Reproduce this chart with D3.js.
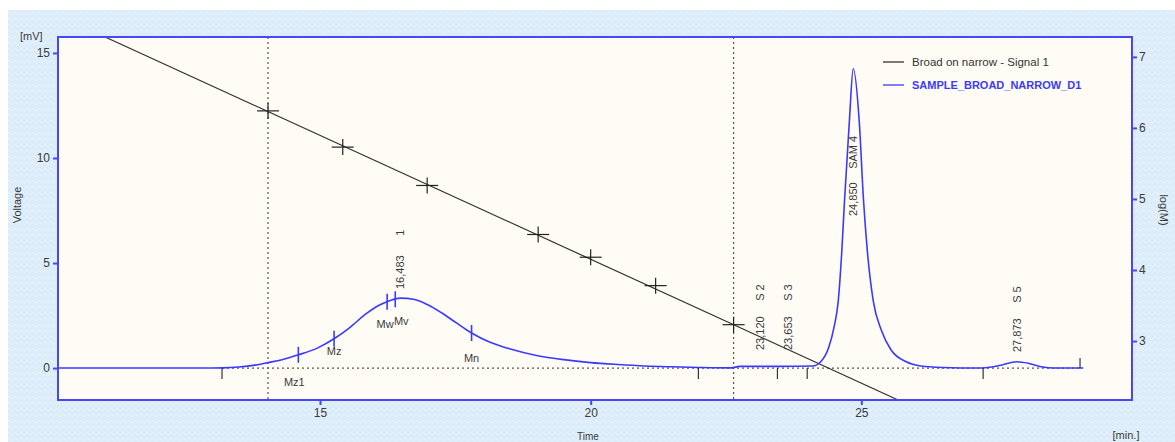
<!DOCTYPE html>
<html>
<head>
<meta charset="utf-8">
<script src="https://cdn.jsdelivr.net/npm/d3@7"></script>
<style>
  html, body { margin: 0; padding: 0; background: #ffffff; }
  svg { display: block; }
  text { font-family: "Liberation Sans", Arial, sans-serif; }
</style>
</head>
<body>
<svg id="chart" width="1175" height="442"></svg>
<script>
// ---------------- DATA ----------------
const xTicks = [15, 20, 25];
const yVoltTicks = [0, 5, 10, 15];
const yLogMTicks = [3, 4, 5, 6, 7];

// Sample trace (time in min, voltage in mV)
const traceTime = [10.16, 12.8, 13.2, 13.5, 13.8, 14.04, 14.3, 14.6, 14.95, 15.28, 15.55, 15.86, 16.1, 16.3, 16.48,
  16.75, 17.0, 17.25, 17.52, 17.8, 18.13, 18.5, 19.0, 19.5, 20.0, 20.5, 21.0, 21.5, 22.0, 22.6, 22.75, 23.5, 24.1,
  24.25, 24.4, 24.5, 24.57, 24.64, 24.69, 24.78, 24.85, 24.96, 25.04, 25.11, 25.22, 25.37, 25.55, 25.83, 26.1, 26.5,
  27.2, 27.4, 27.6, 27.87, 28.1, 28.35, 28.55, 29.1];
const traceVolt = [0, 0, 0.01, 0.05, 0.14, 0.26, 0.4, 0.63, 0.95, 1.43, 1.93, 2.6, 3.0, 3.22, 3.33,
  3.26, 3.0, 2.62, 2.15, 1.67, 1.24, 0.92, 0.6, 0.4, 0.26, 0.17, 0.1, 0.06, 0.03, 0.01, 0.08, 0.08, 0.1,
  0.3, 1.0, 2.0, 3.1, 5.6, 8.0, 11.8, 14.25, 11.8, 8.0, 5.6, 3.2, 1.8, 0.86, 0.3, 0.1, 0.03,
  0, 0.05, 0.15, 0.3, 0.22, 0.05, 0, 0];

// Calibration (log M vs time)
const calibLineTime = [11.03, 25.68];
const calibLineLogM = [7.28, 2.17];
const calibPointTime = [14.04, 15.42, 16.98, 19.03, 20.0, 21.2, 22.64];
const calibPointLogM = [6.24, 5.73, 5.19, 4.50, 4.18, 3.78, 3.23];

// Molar-mass averages marked on the broad peak
const avgNames = ["Mz1", "Mz", "Mw", "Mv", "Mn"];
const avgTime = [14.6, 15.26, 16.24, 16.39, 17.8];

// Peak labels
const peakTime = [16.483, 23.12, 23.653, 24.85, 27.873];
const peakRT = ["16,483", "23,120", "23,653", "24,850", "27,873"];
const peakName = ["1", "S 2", "S 3", "SAM 4", "S 5"];

// Peak boundary markers
const boundaryTime = [13.19, 21.99, 23.45, 24.0, 27.25];
const traceEndTime = 29.04;

// Dotted vertical limits
const limitTime = [14.04, 22.64];

const legendLabels = ["Broad on narrow - Signal 1", "SAMPLE_BROAD_NARROW_D1"];

// ---------------- LAYOUT ----------------
const svg = d3.select("#chart");
const W = 1175, H = 442;
const L = 58, R = 1132, T = 37, B = 400;
const axisColor = "#4646ff";
const blue = "#3a3aff";
const textColor = "#3a3a3a";

const x = d3.scaleLinear().domain([10.16, 30.0]).range([L, R]);
const yV = d3.scaleLinear().domain([-1.52, 15.76]).range([B, T]);
const yM = d3.scaleLinear().domain([2.17, 7.28]).range([B, T]);

// backgrounds
svg.append("rect").attr("x", 0).attr("y", 0).attr("width", W).attr("height", H).attr("fill", "#ffffff");
const defs = svg.append("defs");
const pat = defs.append("pattern").attr("id", "hatch").attr("width", 6).attr("height", 6)
  .attr("patternUnits", "userSpaceOnUse");
pat.append("rect").attr("width", 6).attr("height", 6).attr("fill", "#dcedf9");
pat.append("path").attr("d", "M0,3 L3,0 L6,3").attr("fill", "none").attr("stroke", "#e6f3fc").attr("stroke-width", 1);
svg.append("rect").attr("x", 8).attr("y", 10).attr("width", W - 8).attr("height", H - 10).attr("fill", "url(#hatch)");
svg.append("rect").attr("x", L).attr("y", T).attr("width", R - L).attr("height", B - T).attr("fill", "#fffcf6");

const clip = defs.append("clipPath").attr("id", "plotclip");
clip.append("rect").attr("x", L).attr("y", T).attr("width", R - L).attr("height", B - T);
const plot = svg.append("g").attr("clip-path", "url(#plotclip)");

// dotted vertical limit lines
plot.selectAll("line.limit").data(limitTime).join("line")
  .attr("x1", d => x(d)).attr("x2", d => x(d)).attr("y1", T).attr("y2", B)
  .attr("stroke", "#555").attr("stroke-width", 1.2).attr("stroke-dasharray", "2,3");

// dotted baseline
plot.append("line")
  .attr("x1", x(boundaryTime[0])).attr("x2", x(traceEndTime))
  .attr("y1", yV(0)).attr("y2", yV(0))
  .attr("stroke", "#555").attr("stroke-width", 1.2).attr("stroke-dasharray", "2,3");

// calibration line
const calibData = calibLineTime.map((t, i) => [t, calibLineLogM[i]]);
plot.append("path").datum(calibData)
  .attr("d", d3.line().x(d => x(d[0])).y(d => yM(d[1])))
  .attr("stroke", "#333").attr("stroke-width", 1.2).attr("fill", "none");

// calibration crosses
const crosses = plot.selectAll("g.cross").data(calibPointTime.map((t, i) => [t, calibPointLogM[i]])).join("g")
  .attr("transform", d => `translate(${x(d[0])},${yM(d[1])})`);
crosses.append("line").attr("x1", -11).attr("x2", 11).attr("y1", 0).attr("y2", 0).attr("stroke", "#222").attr("stroke-width", 1.2);
crosses.append("line").attr("x1", 0).attr("x2", 0).attr("y1", -8).attr("y2", 8).attr("stroke", "#222").attr("stroke-width", 1.2);

// sample trace
const traceData = traceTime.map((t, i) => [t, traceVolt[i]]);
plot.append("path").datum(traceData)
  .attr("d", d3.line().x(d => x(d[0])).y(d => yV(d[1])).curve(d3.curveMonotoneX))
  .attr("stroke", blue).attr("stroke-width", 1.6).attr("fill", "none");

function voltAt(t) {
  const i = d3.bisector(d => d).right(traceTime, t);
  const t0 = traceTime[i - 1], t1 = traceTime[i];
  const v0 = traceVolt[i - 1], v1 = traceVolt[i];
  return v0 + (v1 - v0) * (t - t0) / (t1 - t0);
}

// boundary ticks
plot.selectAll("line.bnd").data(boundaryTime).join("line")
  .attr("x1", d => x(d)).attr("x2", d => x(d)).attr("y1", yV(0)).attr("y2", yV(0) + 11)
  .attr("stroke", "#333").attr("stroke-width", 1.2);
plot.append("line").attr("x1", x(traceEndTime)).attr("x2", x(traceEndTime))
  .attr("y1", yV(0) - 10).attr("y2", yV(0)).attr("stroke", "#333").attr("stroke-width", 1.2);

// averages ticks on curve
plot.selectAll("line.avg").data(avgTime).join("line")
  .attr("x1", d => x(d)).attr("x2", d => x(d))
  .attr("y1", d => yV(voltAt(d)) - 8).attr("y2", d => yV(voltAt(d)) + 8)
  .attr("stroke", blue).attr("stroke-width", 1.6);

// averages labels (pixel offsets for styling)
const avgLabelPos = [[-4, null, 382], [0, 12, null], [-2, 22, null], [6, 22, null], [0, 25, null]];
plot.selectAll("text.avg").data(avgTime).join("text")
  .attr("x", (d, i) => x(d) + avgLabelPos[i][0])
  .attr("y", (d, i) => avgLabelPos[i][2] !== null ? avgLabelPos[i][2] + 4 : yV(voltAt(d)) + avgLabelPos[i][1] + 4)
  .attr("text-anchor", "middle").attr("font-size", 11).attr("fill", textColor)
  .text((d, i) => avgNames[i]);

// peak labels (rotated)
const peakLabelBottom = [289, 350, 350, 216, 352];
const peakNameGap = [16, 12, 12, 10, 12];
peakTime.forEach((t, i) => {
  const g = plot.append("g").attr("transform", `translate(${x(t) + 4},${peakLabelBottom[i]}) rotate(-90)`);
  g.append("text").attr("x", 0).attr("y", 0).attr("font-size", 11).attr("fill", textColor)
    .text(peakRT[i]);
  const w = peakRT[i].length * 6.2;
  g.append("text").attr("x", w + peakNameGap[i]).attr("y", 0).attr("font-size", 11).attr("fill", textColor)
    .text(peakName[i]);
});

// frame
svg.append("rect").attr("x", L).attr("y", T).attr("width", R - L).attr("height", B - T)
  .attr("fill", "none").attr("stroke", axisColor).attr("stroke-width", 2);

// axes
const xAxis = d3.axisBottom(x).tickValues(xTicks).tickSize(5).tickFormat(d3.format("d"));
const gx = svg.append("g").attr("transform", `translate(0,${B})`).call(xAxis);
const yAxisL = d3.axisLeft(yV).tickValues(yVoltTicks).tickSize(5).tickFormat(d3.format("d"));
const gyl = svg.append("g").attr("transform", `translate(${L},0)`).call(yAxisL);
const yAxisR = d3.axisRight(yM).tickValues(yLogMTicks).tickSize(5).tickFormat(d3.format("d"));
const gyr = svg.append("g").attr("transform", `translate(${R},0)`).call(yAxisR);
[gx, gyl, gyr].forEach(g => {
  g.select(".domain").remove();
  g.selectAll(".tick line").attr("stroke", axisColor).attr("stroke-width", 2);
  g.selectAll(".tick text").attr("fill", textColor).attr("font-size", 12)
    .attr("font-family", "'Liberation Sans', Arial, sans-serif");
});
gx.selectAll(".tick text").attr("dy", "0.95em").attr("y", 6);
gyl.selectAll(".tick text").attr("x", -8);
gyr.selectAll(".tick text").attr("x", 7);

// axis titles
svg.append("text").attr("x", 20).attr("y", 40).attr("font-size", 11).attr("fill", textColor).text("[mV]");
svg.append("text").attr("transform", "translate(21,205) rotate(-90)").attr("text-anchor", "middle")
  .attr("font-size", 11).attr("fill", textColor).text("Voltage");
svg.append("text").attr("transform", "translate(1160,210) rotate(90)").attr("text-anchor", "middle")
  .attr("font-size", 11).attr("fill", textColor).text("log(M)");
svg.append("text").attr("x", 588).attr("y", 440).attr("text-anchor", "middle")
  .attr("font-size", 10).attr("fill", textColor).text("Time");
svg.append("text").attr("x", 1126).attr("y", 439).attr("text-anchor", "middle")
  .attr("font-size", 11).attr("fill", textColor).text("[min.]");

// legend
const legColors = ["#333", blue];
const leg = svg.append("g");
legendLabels.forEach((lab, i) => {
  const yy = 62 + i * 23;
  leg.append("line").attr("x1", 883).attr("x2", 904).attr("y1", yy).attr("y2", yy)
    .attr("stroke", legColors[i]).attr("stroke-width", 1.3);
  leg.append("text").attr("x", 912).attr("y", yy + 4).attr("font-size", i === 0 ? 11.5 : 11)
    .attr("font-weight", i === 0 ? "normal" : "bold").attr("fill", legColors[i]).text(lab);
});
</script>
</body>
</html>
